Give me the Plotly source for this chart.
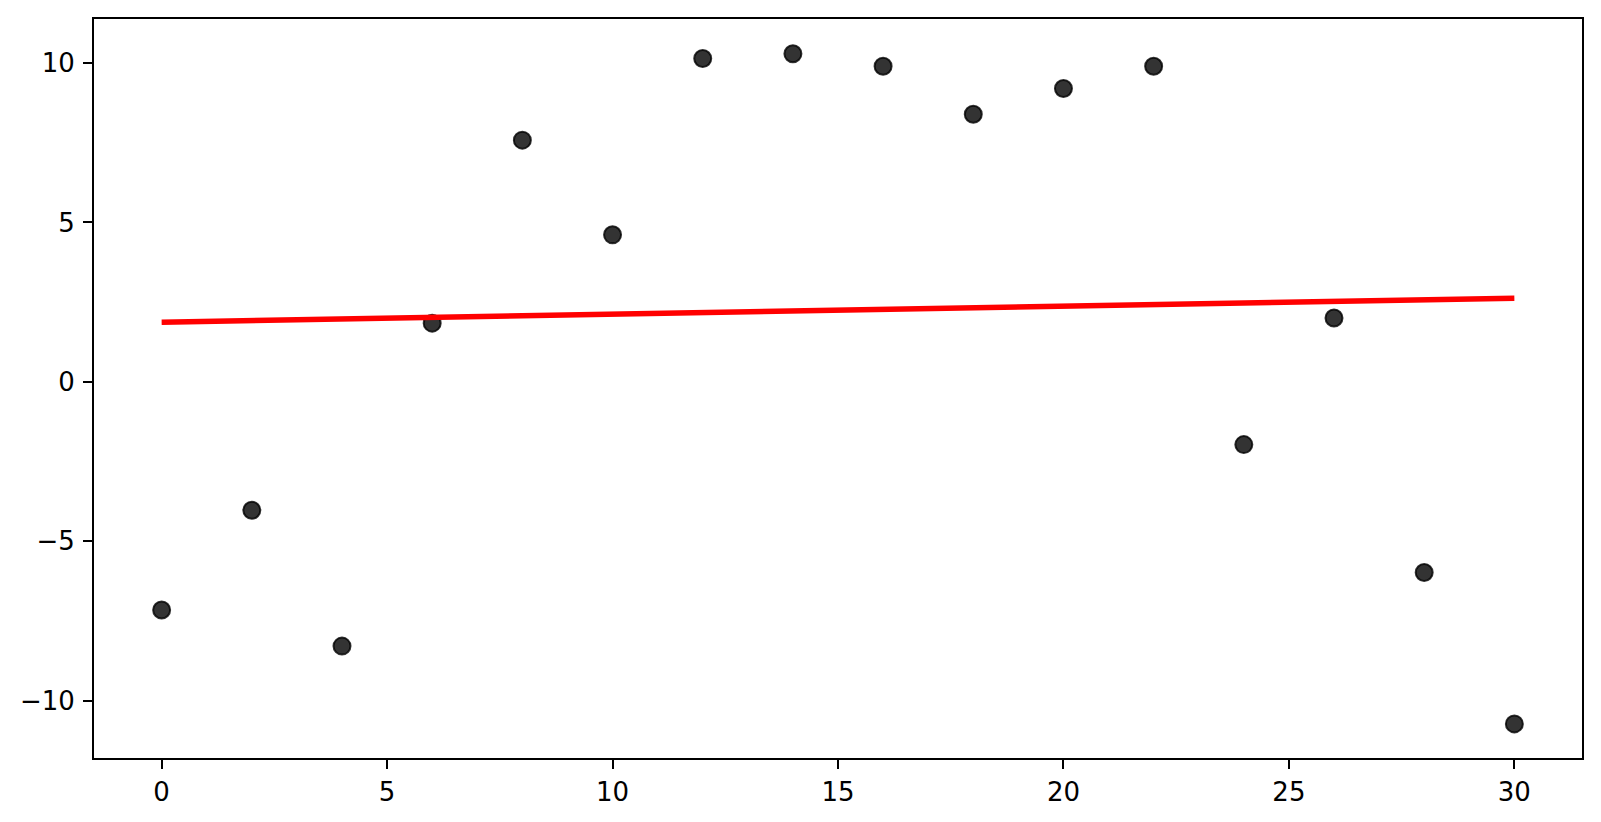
import plotly.graph_objects as go

x_vals = [0, 2, 4, 6, 8, 10, 12, 14, 16, 18, 20, 22, 24, 26, 28, 30]
y_vals = [-7.16, -4.03, -8.29, 1.84, 7.58, 4.61, 10.14, 10.29, 9.90, 8.39, 9.20, 9.90, -1.97, 2.00, -5.98, -10.73]
fit_x = [0, 30]
fit_y = [1.87, 2.62]

x_ticks = [0, 5, 10, 15, 20, 25, 30]
y_ticks = [-10, -5, 0, 5, 10]
y_tick_text = ["\u221210", "\u22125", "0", "5", "10"]

fig = go.Figure()
fig.add_trace(go.Scatter(
    x=x_vals, y=y_vals, mode="markers",
    marker=dict(size=17, color="rgba(0,0,0,0.8)", line=dict(color="rgba(0,0,0,0.8)", width=2)),
    showlegend=False,
))
fig.add_trace(go.Scatter(
    x=fit_x, y=fit_y, mode="lines",
    line=dict(color="red", width=5.5),
    showlegend=False,
))

axis_common = dict(
    showgrid=False, zeroline=False, showline=True, linecolor="black", linewidth=2,
    mirror=True, ticks="outside", ticklen=9, tickwidth=2, tickcolor="black",
    tickfont=dict(family="DejaVu Sans", size=26, color="black"), automargin=False,
)
fig.update_xaxes(range=[-1.5, 31.5], tickvals=x_ticks, ticklabelstandoff=1, **axis_common)
fig.update_yaxes(range=[-11.8, 11.38], tickvals=y_ticks, ticktext=y_tick_text, ticklabelstandoff=3, **axis_common)

fig.update_layout(
    width=1593, height=814,
    margin=dict(l=86, r=19, t=11, b=64),
    plot_bgcolor="white", paper_bgcolor="white",
)
fig.write_html("out.html")
